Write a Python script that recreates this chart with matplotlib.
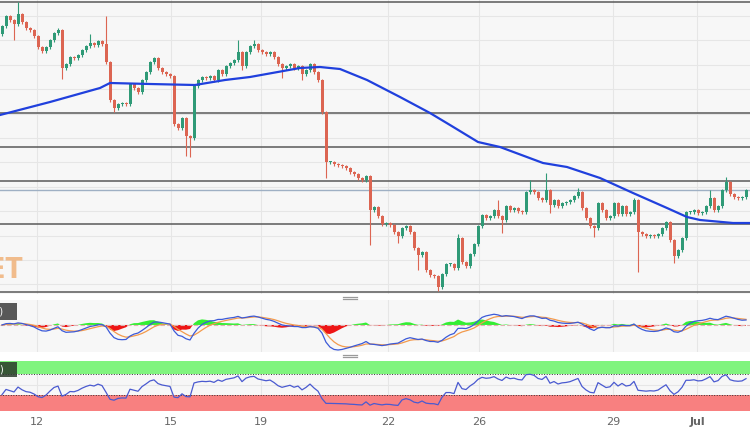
import matplotlib
matplotlib.use('Agg')
import matplotlib.pyplot as plt
import numpy as np
from matplotlib.lines import Line2D
from matplotlib.patches import Rectangle

# closing level of each ~2h bar (no price scale shown, units arbitrary)
closes = [274, 284, 280, 276, 286, 278, 272, 270, 264, 253, 249, 253, 260, 267, 270,
          232, 236, 243, 242, 245, 250, 254, 257, 255, 259, 256, 238, 200, 192, 196,
          197, 196, 216, 212, 208, 220, 228, 238, 242, 232, 228, 226, 224, 176, 172,
          182, 164, 162, 214, 220, 223, 222, 224, 220, 230, 226, 234, 237, 240, 248,
          234, 248, 254, 256, 250, 248, 246, 248, 243, 236, 232, 234, 236, 232, 234,
          226, 230, 236, 228, 220, 188, 138, 138, 136, 135, 134, 132, 128, 126, 122,
          120, 124, 90, 93, 84, 76, 77, 75, 68, 64, 72, 74, 68, 52, 45,
          48, 30, 25, 24, 13, 26, 36, 36, 32, 62, 38, 34, 46, 56, 74,
          85, 82, 84, 90, 84, 80, 94, 90, 92, 89, 88, 108, 110, 108, 102,
          100, 110, 95, 100, 94, 97, 98, 100, 104, 108, 92, 82, 74, 72, 97,
          90, 82, 84, 97, 86, 94, 86, 88, 100, 68, 66, 64, 65, 64, 66,
          72, 78, 60, 44, 50, 62, 88, 88, 90, 87, 88, 94, 102, 90, 94,
          110, 118, 106, 103, 102, 103, 110]
first_open = 266

# wicks that stand out (bar index -> level); the other bars only have short wicks
spike_highs = {4: 298, 14: 272, 22: 266, 26: 284, 59: 260, 63: 260, 114: 66,
               124: 100, 132: 120, 136: 127, 144: 112, 158: 102, 177: 110, 181: 123}
spike_lows = {3: 260, 15: 221, 28: 188, 46: 144, 47: 143, 60: 230, 70: 222,
              75: 220, 81: 122, 92: 55, 99: 57, 104: 30, 109: 9, 125: 67,
              137: 87, 148: 63, 159: 28, 168: 37}

# 200-period moving average, read at a few bars
sma_bar = [-0.5, 12, 24.5, 27, 37, 48.25, 55.75, 62, 74.5, 79.5, 84.5, 91.25, 99.5,
           107, 112, 119, 124.5, 135.25, 141.25, 149.5, 157.75, 166.25, 171.25,
           174.5, 182.75, 187]
sma_val = [185, 198, 212, 217, 216, 215, 220, 223, 232, 233, 231, 220, 203,
           187, 175, 158, 153, 137, 133, 122, 107, 92, 83, 80, 77, 77]

levels = [298, 187, 153, 119, 76, 8]
level_thin = 110

day_bars = [8.75, 42.25, 64.75, 96.5, 119.25, 152.75, 173.75]
day_labels = ['12', '15', '19', '22', '26', '29', 'Jul']

UP = '#2f9a77'
DOWN = '#dc6552'
BG = '#f7f7f7'
GRID = '#e6e6e6'


def ema(x, n):
    a = 2.0 / (n + 1)
    out = np.empty(len(x))
    out[0] = x[0]
    for i in range(1, len(x)):
        out[i] = a * x[i] + (1 - a) * out[i - 1]
    return out


def rsi(x, n):
    d = np.diff(x, prepend=x[0])
    g = np.clip(d, 0, None)
    l = np.clip(-d, 0, None)
    ag = np.empty(len(x))
    al = np.empty(len(x))
    ag[0] = g[1:n + 1].mean()
    al[0] = l[1:n + 1].mean()
    for i in range(1, len(x)):
        ag[i] = (ag[i - 1] * (n - 1) + g[i]) / n
        al[i] = (al[i - 1] * (n - 1) + l[i]) / n
    return 100 - 100 / (1 + ag / (al + 1e-9))


c = np.array(closes, float)
o = np.array([first_open] + closes[:-1], float)
n = len(c)
idx = np.arange(n)
top = np.maximum(o, c)
bot = np.minimum(o, c)
hi = top + 1.5
lo = bot - 1.5
for k, v in spike_highs.items():
    hi[k] = max(hi[k], v)
for k, v in spike_lows.items():
    lo[k] = min(lo[k], v)
cols = np.where(c >= o, UP, DOWN)

macd = ema(c, 6) - ema(c, 13)
signal = ema(macd, 5)
hist = macd - signal
r = rsi(c, 10)

fig = plt.figure(figsize=(7.5, 4.3), dpi=100)
fig.patch.set_facecolor('white')
H = 430.0
W = 750.0


def panel(y0, y1):
    a = fig.add_axes([0, 1 - y1 / H, 1, (y1 - y0) / H])
    a.set_facecolor(BG)
    for s in a.spines.values():
        s.set_visible(False)
    a.set_xlim(-0.5, 187)
    a.set_xticks(day_bars)
    a.tick_params(length=0, labelleft=False, labelbottom=False)
    a.grid(True, axis='x', color=GRID, lw=0.8)
    a.set_axisbelow(True)
    return a


def tag(label, y0, y1, fc):
    # indicator caption box, mostly scrolled off the left edge
    fig.add_artist(Rectangle((-60 / W, 1 - y1 / H), 77 / W, (y1 - y0) / H,
                             transform=fig.transFigure, fc=fc, ec='none', alpha=0.85))
    fig.text(3.5 / W, 1 - (y0 + y1) / 2 / H, label, ha='right', va='center',
             fontsize=7, color='white')


# price panel
ax = panel(0, 294)
ax.set_ylim(6, 300)
ax.set_yticks(np.arange(15.6, 300, 24.4))
ax.grid(True, axis='y', color=GRID, lw=0.8)
for lv in levels:
    ax.axhline(lv, color='#5a5a5a', lw=1.1, zorder=2)
ax.axhline(level_thin, color='#9fb0c4', lw=1.0, zorder=2)
ax.vlines(idx, lo, hi, colors=cols, lw=0.8, zorder=3)
ax.bar(idx, np.maximum(top - bot, 0.8), bottom=bot, width=0.75, color=cols,
       linewidth=0, zorder=4)
ax.plot(sma_bar, sma_val, color='#2040dd', lw=1.6, zorder=5)
fig.text(23 / W, 1 - 278 / H, 'FXSTREET', ha='right', va='baseline',
         fontsize=20, fontweight='bold', fontstretch='condensed', color='#f0b27a',
         alpha=0.85, family=['Liberation Sans Narrow', 'DejaVu Sans'], zorder=1)

# MACD panel
am = panel(300, 352)
lo_m = min(macd.min(), signal.min()) * 1.08
am.set_ylim(lo_m, -lo_m * 0.48 / 0.52)
am.axhline(0, color='#e0b0b0', lw=0.8, ls=(0, (4, 2)))
am.fill_between(idx, 0, hist, where=hist >= 0, color='#33ee33', lw=0, interpolate=True)
am.fill_between(idx, 0, hist, where=hist < 0, color='#ee1515', lw=0, interpolate=True)
am.plot(idx, signal, color='#f39a4c', lw=0.9)
am.plot(idx, macd, color='#3c5ad8', lw=0.9)
tag('MACD(12,26,9)', 303, 320, '#3c3c3c')

# RSI panel
ar = panel(360.5, 410.5)
ar.set_ylim(0, 97)
ar.axhspan(70, 100, color='#80f47e', lw=0)
ar.axhspan(0, 30, color='#f88080', lw=0)
ar.axhline(50, color=GRID, lw=0.8)
for lv in (70, 30):
    ar.axhline(lv, color='#333333', lw=0.7, ls=':')
ar.plot(idx, r, color='#4a5ad0', lw=0.9)
ar.tick_params(labelbottom=True, labelsize=8, labelcolor='#666666', pad=5)
ar.set_xticklabels(day_labels)
ar.get_xticklabels()[-1].set_fontweight('bold')
tag('RSI(14)', 362, 377, '#2a3a2a')

# panel resize handles
for yy in (296.5, 298.5, 354.5, 356.5):
    fig.add_artist(Line2D([343 / W, 357 / W], [1 - yy / H, 1 - yy / H],
                          transform=fig.transFigure, color='#9a9a9a', lw=0.9))

fig.savefig('out.png', dpi=100)
